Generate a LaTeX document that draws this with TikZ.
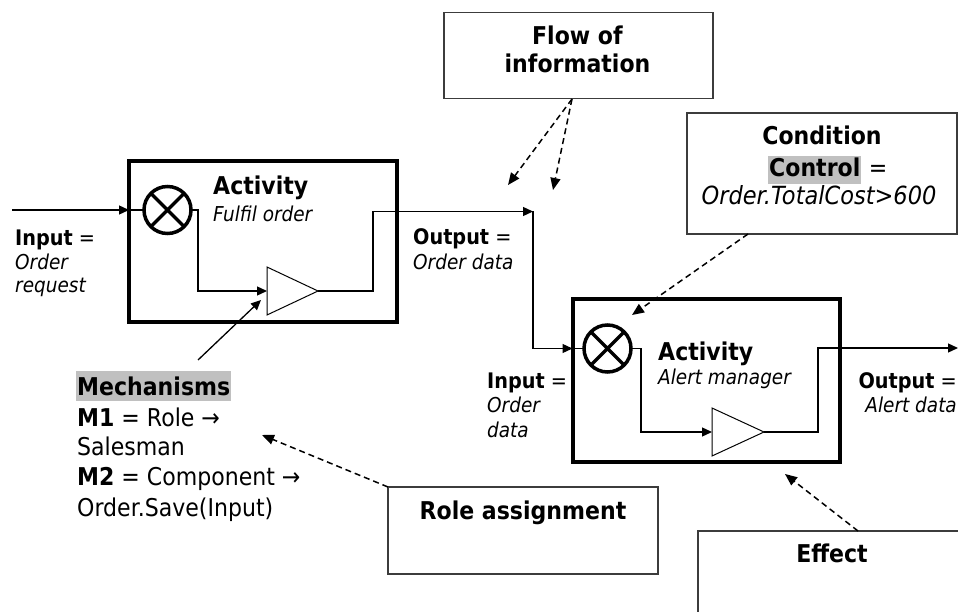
\documentclass[tikz,border=0pt]{standalone}
\usepackage{fontspec}
\setmainfont{DejaVu Sans}[FakeStretch=0.9]
\usetikzlibrary{arrows.meta,calc}
\definecolor{hl}{RGB}{192,192,192}
\definecolor{boxline}{RGB}{60,60,60}
\begin{document}
\begin{tikzpicture}[x=1pt,y=-1pt,
  actbox/.style={draw, line width=4pt, inner sep=0pt, outer sep=0pt, anchor=north west},
  infobox/.style={draw=boxline, line width=1.5pt, inner sep=0pt, outer sep=0pt, anchor=north west},
  joinc/.style={draw, circle, line width=3.5pt, minimum size=47pt, inner sep=0pt, outer sep=0pt},
  wire/.style={line width=1.3pt},
  arr/.style={wire, -{Triangle[length=10pt,width=9pt]}},
  darr/.style={line width=1.5pt, dash pattern=on 6pt off 4pt, -{Triangle[length=12pt,width=10pt]}},
  tri/.style={line width=1pt},
  fA/.style={font=\fontsize{24.5}{28}\selectfont, inner sep=0pt},
  fB/.style={font=\fontsize{21.4}{25}\selectfont, inner sep=0pt},
  fI/.style={font=\fontsize{20.5}{24}\selectfont\itshape, inner sep=0pt},
  lbl/.style={anchor=base west},
  ctr/.style={anchor=base}
]
\useasboundingbox (0,0) rectangle (958,612);

% ---------- activity boxes ----------
\node[actbox, minimum width=268pt, minimum height=160pt] (box1) at (129,161.5) {};
\node[actbox, minimum width=267.5pt, minimum height=163pt] (box2) at (572.5,299) {};

% join circles
\node[joinc] (c1) at (167.5,210) {};
\draw[line width=3.5pt] (c1.45) -- (c1.225) (c1.135) -- (c1.315);
\node[joinc] (c2) at (607.5,348.5) {};
\draw[line width=3.5pt] (c2.45) -- (c2.225) (c2.135) -- (c2.315);

% triangles
\draw[tri] (267,267) -- (267,315) -- (318,291) coordinate (t1out) -- cycle;
\coordinate (t1in) at (267,291);
\draw[tri] (712,408) -- (712,456) -- (764,432) coordinate (t2out) -- cycle;
\coordinate (t2in) at (712,432);

% ---------- info boxes ----------
\node[infobox, minimum width=269pt, minimum height=86pt] (flow) at (444,12.7) {};
\node[infobox, minimum width=270pt, minimum height=121pt] (cond) at (687,113) {};
\node[infobox, minimum width=270pt, minimum height=87pt] (role) at (388,487) {};
\node[infobox, minimum width=270pt, minimum height=100pt] (effect) at (698,531) {};

% ---------- wires ----------
\coordinate (in1) at (12,210);
\coordinate (j1) at (533,211.5);
\coordinate (out2) at (958,348);
\draw[arr] (in1) -- (box1.west |- c1);
\draw[wire] (box1.west |- c1) -- (c1.west);
\draw[arr] (c1.east) -- ++(7,0) |- (t1in);
\draw[arr] (t1out) -- ++(55,0) |- (j1);
\draw[arr] (j1) |- (box2.west |- c2);
\draw[wire] (box2.west |- c2) -- (c2.west);
\draw[arr] (c2.east) -- ++(10,0) |- (t2in);
\draw[arr] (t2out) -- ++(54,0) |- (out2);

% mechanism arrow
\coordinate (m0) at (198,360);
\coordinate (mtip) at (261,300);
\draw[arr] (m0) -- (mtip);

% ---------- dashed annotation arrows ----------
\coordinate (fl0) at (572,99);
\coordinate (fl1) at (508,185);
\coordinate (fl2) at (553,190);
\draw[darr] (fl0) -- (fl1);
\draw[darr] (fl0) -- (fl2);
\coordinate (cd0) at (748,234);
\coordinate (cd1) at (632,315);
\draw[darr] (cd0) -- (cd1);
\coordinate (rl1) at (262,435);
\draw[darr] (role.north west) -- (rl1);
\coordinate (ef0) at (858,531);
\coordinate (ef1) at (785,474);
\draw[darr] (ef0) -- (ef1);

% ---------- texts ----------
\node[fA, lbl] (act1) at (213,195) {\textbf{Activity}};
\node[fI, lbl] (name1) at (213,222) {Fulfil order};
\node[fA, lbl] (act2) at (658,360) {\textbf{Activity}};
\node[fI, lbl] (name2) at (658,384) {Alert manager};

\node[fB, lbl] (in1a) at (15,246) {\textbf{Input} =};
\node[fI, lbl] (in1b) at (15,270) {Order};
\node[fI, lbl] (in1c) at (15,293) {request};

\node[fB, lbl] (out1a) at (413,245) {\textbf{Output} =};
\node[fI, lbl] (out1b) at (413,270) {Order data};

\node[fB, lbl] (in2a) at (487,388) {\textbf{Input} =};
\node[fI, lbl] (in2b) at (487,412) {Order};
\node[fI, lbl] (in2c) at (487,437) {data};

\node[fB, anchor=base east] (out2a) at (957,388) {\textbf{Output} =};
\node[fI, anchor=base east] (out2b) at (957,412) {Alert data};

\node[fA, lbl, fill=hl, text height=24pt, text depth=6pt, inner xsep=1pt] (mech) at (76,395) {\textbf{Mechanisms}};
\node[fA, lbl] (mm1) at (77,426) {\textbf{M1} = Role →};
\node[fA, lbl] (mm2) at (77,455) {Salesman};
\node[fA, lbl] (mm3) at (77,485) {\textbf{M2} = Component →};
\node[fA, lbl] (mm4) at (77,516) {Order.Save(Input)};

\node[fA, ctr] (flowa) at (577.5,45) {\textbf{Flow of}};
\node[fA, ctr] (flowb) at (577.5,73) {\textbf{information}};

\node[fA, ctr] (conda) at (822,145) {\textbf{Condition}};
\node[fA, lbl, fill=hl, text height=21pt, text depth=7pt, inner xsep=1pt] (ctl) at (768,177) {\textbf{Control}};
\node[fA, lbl] (ctleq) at (ctl.base east) {\ =};
\node[fA, ctr, font=\fontsize{25}{29}\selectfont\itshape] (condc) at (819,205) {Order.TotalCost>600};

\node[fA, ctr] (rolet) at (523,519) {\textbf{Role assignment}};
\node[fA, ctr] (effectt) at (832,562) {\textbf{Effect}};
\end{tikzpicture}
\end{document}
